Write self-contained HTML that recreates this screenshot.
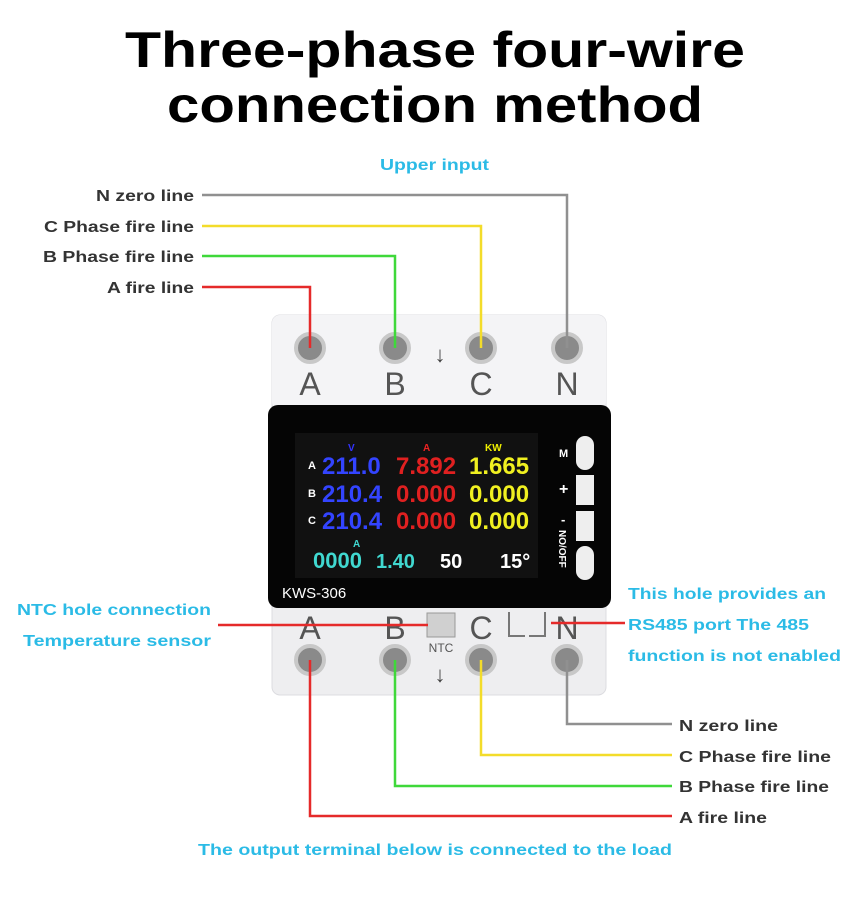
<!DOCTYPE html>
<html><head><meta charset="utf-8"><style>
body{margin:0;background:#fff}
svg text{font-family:"Liberation Sans",Arial,sans-serif}
</style></head><body>
<svg width="850" height="900" viewBox="0 0 850 900" xmlns="http://www.w3.org/2000/svg">
<rect width="850" height="900" fill="#fff"/>
<text x="125" y="67" font-size="50" font-weight="bold" fill="#000" textLength="620" lengthAdjust="spacingAndGlyphs">Three-phase four-wire</text>
<text x="167" y="122" font-size="50" font-weight="bold" fill="#000" textLength="536" lengthAdjust="spacingAndGlyphs">connection method</text>
<text x="380" y="170" font-size="16" font-weight="bold" fill="#2bbbe6" textLength="109" lengthAdjust="spacingAndGlyphs">Upper input</text>
<g font-size="16" font-weight="bold" fill="#333" lengthAdjust="spacingAndGlyphs">
<text x="96" y="201" textLength="98" lengthAdjust="spacingAndGlyphs">N zero line</text>
<text x="44" y="232" textLength="150" lengthAdjust="spacingAndGlyphs">C Phase fire line</text>
<text x="43" y="262" textLength="151" lengthAdjust="spacingAndGlyphs">B Phase fire line</text>
<text x="107" y="293" textLength="87" lengthAdjust="spacingAndGlyphs">A fire line</text>
<text x="679" y="731" textLength="99" lengthAdjust="spacingAndGlyphs">N zero line</text>
<text x="679" y="762" textLength="152" lengthAdjust="spacingAndGlyphs">C Phase fire line</text>
<text x="679" y="792" textLength="150" lengthAdjust="spacingAndGlyphs">B Phase fire line</text>
<text x="679" y="823" textLength="88" lengthAdjust="spacingAndGlyphs">A fire line</text>
</g>
<g font-size="16" font-weight="bold" fill="#2bbbe6">
<text x="17" y="615" textLength="194" lengthAdjust="spacingAndGlyphs">NTC hole connection</text>
<text x="23" y="646" textLength="188" lengthAdjust="spacingAndGlyphs">Temperature sensor</text>
<text x="628" y="599" textLength="198" lengthAdjust="spacingAndGlyphs">This hole provides an</text>
<text x="628" y="630" textLength="181" lengthAdjust="spacingAndGlyphs">RS485 port The 485</text>
<text x="628" y="661" textLength="213" lengthAdjust="spacingAndGlyphs">function is not enabled</text>
<text x="198" y="855" textLength="474" lengthAdjust="spacingAndGlyphs">The output terminal below is connected to the load</text>
</g>
<!-- device body -->
<rect x="272" y="315" width="334" height="380" rx="8" fill="#eeeef0" stroke="#dcdce0"/>
<rect x="272" y="315" width="334" height="95" rx="8" fill="#f4f4f6"/>
<g fill="#8a8a8a" stroke="#c8c8c8" stroke-width="4">
<circle cx="310" cy="348" r="14"/><circle cx="395" cy="348" r="14"/><circle cx="481" cy="348" r="14"/><circle cx="567" cy="348" r="14"/>
<circle cx="310" cy="660" r="14"/><circle cx="395" cy="660" r="14"/><circle cx="481" cy="660" r="14"/><circle cx="567" cy="660" r="14"/>
</g>
<g font-size="32" fill="#555" text-anchor="middle">
<text x="310" y="395">A</text><text x="395" y="395">B</text><text x="481" y="395">C</text><text x="567" y="395">N</text>
<text x="310" y="639">A</text><text x="395" y="639">B</text><text x="481" y="639">C</text><text x="567" y="639">N</text>
</g>
<text x="440" y="362" font-size="22" fill="#444" text-anchor="middle">↓</text>
<text x="440" y="682" font-size="22" fill="#444" text-anchor="middle">↓</text>
<rect x="427" y="613" width="28" height="24" fill="#d0d0d0" stroke="#999"/>
<text x="441" y="652" font-size="12" fill="#555" text-anchor="middle">NTC</text>
<path d="M509 612 V636 H525 M529 636 H545 V612" fill="none" stroke="#777" stroke-width="2"/>
<!-- display -->
<rect x="268" y="405" width="343" height="203" rx="10" fill="#050505"/>
<rect x="295" y="433" width="243" height="145" fill="#111"/>
<text x="282" y="598" font-size="15" fill="#fff">KWS-306</text>
<g font-size="11" font-weight="bold" fill="#fff"><text x="308" y="469">A</text><text x="308" y="497">B</text><text x="308" y="524">C</text></g>
<text x="348" y="451" font-size="10" font-weight="bold" fill="#33f">V</text>
<text x="423" y="451" font-size="10" font-weight="bold" fill="#e22">A</text>
<text x="485" y="451" font-size="10" font-weight="bold" fill="#ee0">KW</text>
<g font-family="Liberation Mono" font-size="24" font-weight="bold">
<text x="322" y="474" fill="#3344ff">211.0</text><text x="322" y="502" fill="#3344ff">210.4</text><text x="322" y="529" fill="#3344ff">210.4</text>
<text x="396" y="474" fill="#e02020">7.892</text><text x="396" y="502" fill="#e02020">0.000</text><text x="396" y="529" fill="#e02020">0.000</text>
<text x="469" y="474" fill="#f0f020">1.665</text><text x="469" y="502" fill="#f0f020">0.000</text><text x="469" y="529" fill="#f0f020">0.000</text>
<text x="313" y="568" fill="#40d8d0" font-size="22">0000</text>
<text x="376" y="568" fill="#40d8d0" font-size="20">1.40</text>
<text x="440" y="568" fill="#fff" font-size="20">50</text>
<text x="500" y="568" fill="#fff" font-size="20">15°</text>
</g>
<text x="353" y="547" font-size="10" font-weight="bold" fill="#40d8d0">A</text>
<g fill="#eee">
<rect x="576" y="436" width="18" height="34" rx="9"/>
<rect x="576" y="475" width="18" height="30"/>
<rect x="576" y="511" width="18" height="30"/>
<rect x="576" y="546" width="18" height="34" rx="9"/>
</g>
<g font-size="11" fill="#fff" font-weight="bold"><text x="559" y="457">M</text><text x="559" y="494" font-size="16">+</text><text x="561" y="524" font-size="13">-</text></g>
<text x="0" y="0" font-size="10" fill="#fff" font-weight="bold" transform="translate(559,530) rotate(90)">NO/OFF</text>
<!-- wires -->
<g fill="none" stroke-width="2.5">
<path d="M202 195 H567 V348" stroke="#909090"/>
<path d="M202 226 H481 V348" stroke="#f3dc2a"/>
<path d="M202 256 H395 V348" stroke="#3fd83a"/>
<path d="M202 287 H310 V348" stroke="#e52a2a"/>
<path d="M567 660 V724 H672" stroke="#909090"/>
<path d="M481 660 V755 H672" stroke="#f3dc2a"/>
<path d="M395 660 V786 H672" stroke="#3fd83a"/>
<path d="M310 660 V816 H672" stroke="#e52a2a"/>
<path d="M218 625 H428" stroke="#e52a2a"/>
<path d="M551 623 H625" stroke="#e52a2a"/>
</g>
</svg>
</body></html>
